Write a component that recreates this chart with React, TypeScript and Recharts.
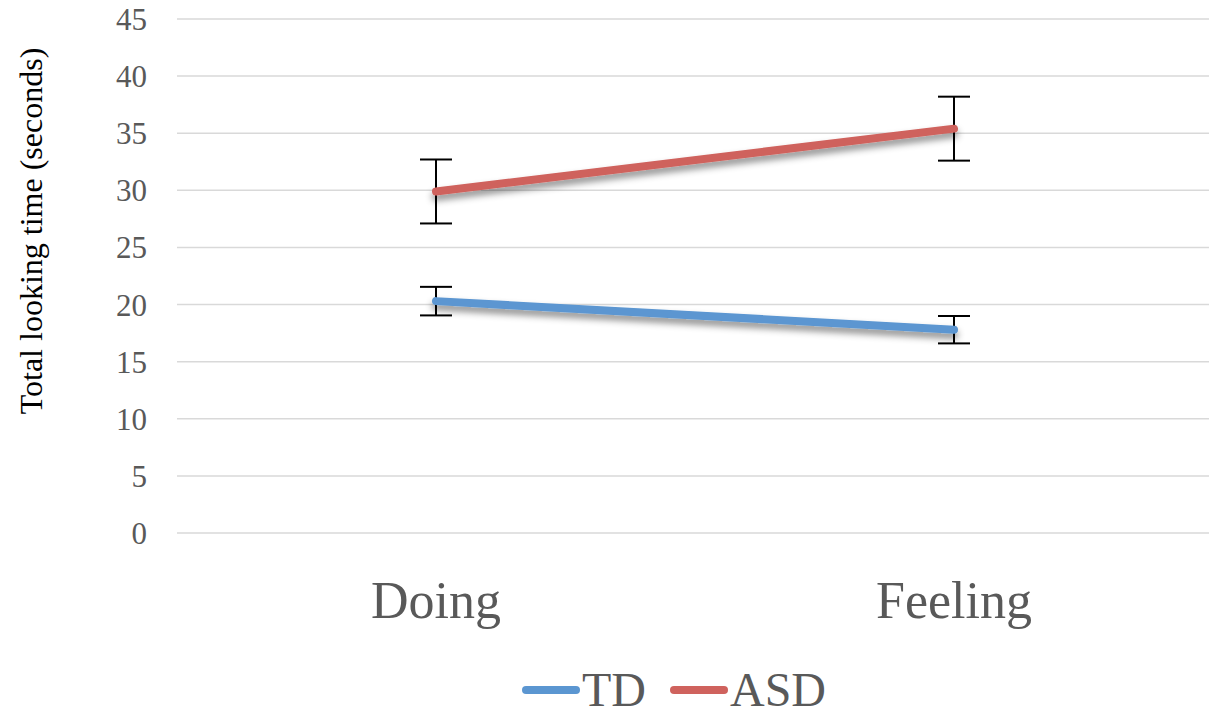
import React from "react";
import {
  LineChart,
  Line,
  XAxis,
  YAxis,
  CartesianGrid,
  ErrorBar
} from "recharts";

// group means and standard errors per condition
const categories = ["Doing", "Feeling"];
const tdMeans = [20.3, 17.8];
const tdErrors = [1.25, 1.2];
const asdMeans = [29.9, 35.4];
const asdErrors = [2.8, 2.8];
const yTicks = [0, 5, 10, 15, 20, 25, 30, 35, 40, 45];

const TD_COLOR = "#5B96D1";
const ASD_COLOR = "#CF625D";
const TEXT_GREY = "#595959";
const FONT = "'Liberation Serif', 'Times New Roman', serif";

const data = categories.map((name, i) => ({
  name,
  td: tdMeans[i],
  tdErr: tdErrors[i],
  asd: asdMeans[i],
  asdErr: asdErrors[i]
}));

const legendItems = [
  { label: "TD", color: TD_COLOR },
  { label: "ASD", color: ASD_COLOR }
];

function AxisTitle(props: any) {
  const { viewBox } = props;
  const x = viewBox.x + 31;
  const y = viewBox.y + viewBox.height / 2 - 45;
  return (
    <text
      x={x}
      y={y}
      transform={`rotate(-90, ${x}, ${y})`}
      textAnchor="middle"
      dominantBaseline="central"
      fontFamily={FONT}
      fontSize={32}
      fill="#000"
    >
      Total looking time (seconds)
    </text>
  );
}

function LegendBox() {
  return (
    <div
      style={{
        position: "absolute",
        left: 522,
        top: 664,
        display: "flex",
        alignItems: "center",
        fontFamily: FONT
      }}
    >
      {legendItems.map((item, i) => (
        <div
          key={item.label}
          style={{ display: "flex", alignItems: "center", marginLeft: i ? 24 : 0 }}
        >
          <span
            style={{
              display: "inline-block",
              width: 58,
              height: 8,
              borderRadius: 4,
              background: item.color,
              marginRight: 2
            }}
          />
          <span style={{ fontSize: 48, color: TEXT_GREY, lineHeight: "52px" }}>
            {item.label}
          </span>
        </div>
      ))}
    </div>
  );
}

export default function App() {
  return (
    <div
      style={{
        position: "absolute",
        left: 0,
        top: 0,
        width: 1209,
        height: 721,
        overflow: "hidden",
        background: "#fff"
      }}
    >
      <LineChart
        width={1213}
        height={721}
        data={data}
        margin={{ top: 19, right: 0, left: 0, bottom: 78 }}
      >
        <defs>
          <filter id="lineShadow" x="-10%" y="-100%" width="120%" height="300%">
            <feDropShadow dx="0" dy="5" stdDeviation="3.5" floodColor="#000" floodOpacity="0.45" />
          </filter>
        </defs>
        <CartesianGrid vertical={false} stroke="#D9D9D9" strokeWidth={1.5} />
        <XAxis
          dataKey="name"
          scale="band"
          axisLine={false}
          tickLine={false}
          tickSize={0}
          tickMargin={48}
          height={110}
          tick={{ fill: TEXT_GREY, fontSize: 52, fontFamily: FONT }}
        />
        <YAxis
          domain={[0, 45]}
          ticks={yTicks}
          width={177}
          axisLine={false}
          tickLine={false}
          tickSize={0}
          tickMargin={30}
          tick={{ fill: TEXT_GREY, fontSize: 31, fontFamily: FONT }}
          label={{ content: AxisTitle }}
        />
        <Line
          dataKey="td"
          stroke={TD_COLOR}
          strokeWidth={8}
          strokeLinecap="round"
          filter="url(#lineShadow)"
          dot={false}
          activeDot={false}
          isAnimationActive={false}
        >
          <ErrorBar dataKey="tdErr" width={16} stroke="#000" strokeWidth={2} />
        </Line>
        <Line
          dataKey="asd"
          stroke={ASD_COLOR}
          strokeWidth={8}
          strokeLinecap="round"
          filter="url(#lineShadow)"
          dot={false}
          activeDot={false}
          isAnimationActive={false}
        >
          <ErrorBar dataKey="asdErr" width={16} stroke="#000" strokeWidth={2} />
        </Line>
      </LineChart>
      <LegendBox />
    </div>
  );
}
